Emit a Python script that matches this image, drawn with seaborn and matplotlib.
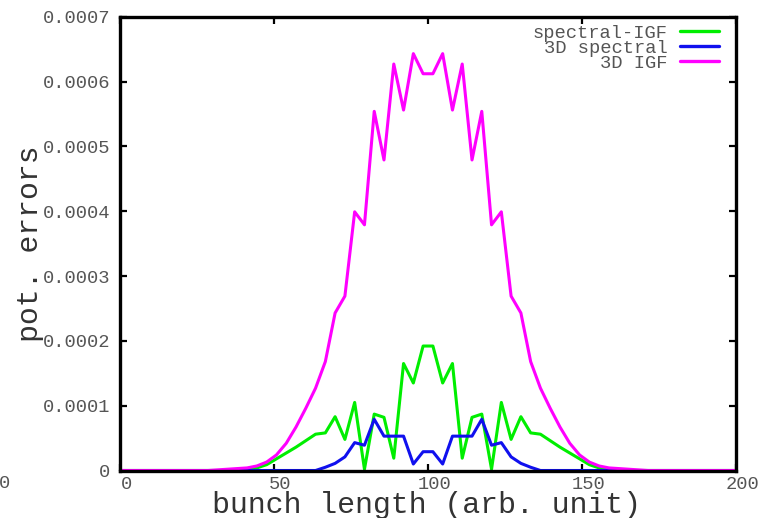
import matplotlib
matplotlib.use("Agg")
import matplotlib.pyplot as plt
import matplotlib.transforms as mtransforms
import seaborn as sns

# ---- data -------------------------------------------------------------
x_pos = [0.00, 3.17, 6.35, 9.52, 12.70, 15.87, 19.05, 22.22, 25.40, 28.57,
         31.75, 34.92, 38.10, 41.27, 44.44, 47.62, 50.79, 53.97, 57.14, 60.32,
         63.49, 66.67, 69.84, 73.02, 76.19, 79.37, 82.54, 85.71, 88.89, 92.06,
         95.24, 98.41, 101.59, 104.76, 107.94, 111.11, 114.29, 117.46, 120.63, 123.81,
         126.98, 130.16, 133.33, 136.51, 139.68, 142.86, 146.03, 149.21, 152.38, 155.56,
         158.73, 161.90, 165.08, 168.25, 171.43, 174.60, 177.78, 180.95, 184.13, 187.30,
         190.48, 193.65, 196.83, 200.00]

spectral_igf = [0, 0, 0, 0, 0, 0, 0, 0, 0, 0,
                0, 0, 0, 0.000002, 0.000004, 0.000009, 0.000018, 0.000027, 0.000036, 0.000046,
                0.000056, 0.000058, 0.000083, 0.000048, 0.000105, 0.000002, 0.000087, 0.000082, 0.000019, 0.000165,
                0.000135, 0.000192, 0.000192, 0.000135, 0.000165, 0.000019, 0.000082, 0.000087, 0.000002, 0.000105,
                0.000048, 0.000083, 0.000058, 0.000056, 0.000046, 0.000036, 0.000027, 0.000018, 0.000009, 0.000004,
                0.000002, 0, 0, 0, 0, 0, 0, 0, 0, 0,
                0, 0, 0, 0]

spectral_3d = [0, 0, 0, 0, 0, 0, 0, 0, 0, 0,
               0, 0, 0, 0, 0, 0, 0, 0, 0, 0,
               0, 0.000005, 0.000011, 0.000021, 0.000043, 0.000039, 0.000079, 0.000053, 0.000053, 0.000053,
               0.000010, 0.000029, 0.000029, 0.000010, 0.000053, 0.000053, 0.000053, 0.000079, 0.000039, 0.000043,
               0.000021, 0.000011, 0.000005, 0, 0, 0, 0, 0, 0, 0,
               0, 0, 0, 0, 0, 0, 0, 0, 0, 0,
               0, 0, 0, 0]

igf_3d = [0, 0, 0, 0, 0, 0, 0, 0, 0, 0,
          0.000001, 0.000002, 0.000003, 0.000004, 0.000007, 0.000013, 0.000024, 0.000042, 0.000067, 0.000096,
          0.000127, 0.000168, 0.000243, 0.000269, 0.000399, 0.000379, 0.000554, 0.000479, 0.000627, 0.000556,
          0.000643, 0.000612, 0.000612, 0.000643, 0.000556, 0.000627, 0.000479, 0.000554, 0.000379, 0.000399,
          0.000269, 0.000243, 0.000168, 0.000127, 0.000096, 0.000067, 0.000042, 0.000024, 0.000013, 0.000007,
          0.000004, 0.000003, 0.000002, 0.000001, 0, 0, 0, 0, 0, 0,
          0, 0, 0, 0]

series_labels = ["spectral-IGF", "3D spectral", "3D IGF"]
series_colors = ["#00ee00", "#1010ee", "#ff00ff"]

x_ticks = [0, 50, 100, 150, 200]
x_tick_labels = ["0", "50", "100", "150", "200"]
y_ticks = [0, 0.0001, 0.0002, 0.0003, 0.0004, 0.0005, 0.0006, 0.0007]
y_tick_labels = ["0", "0.0001", "0.0002", "0.0003", "0.0004", "0.0005", "0.0006", "0.0007"]

x_label = "bunch length (arb. unit)"
y_label = "pot. errors"

# ---- style ------------------------------------------------------------
sns.set_style("white")
plt.rcParams["font.family"] = ["Liberation Mono", "DejaVu Sans Mono"]

fig = plt.figure(figsize=(7.7, 5.18), dpi=100)
ax = fig.add_axes([120 / 770, 1 - 470.5 / 518, 616 / 770, 453.8 / 518])

for vals, lab, col in zip([spectral_igf, spectral_3d, igf_3d], series_labels, series_colors):
    sns.lineplot(x=x_pos, y=vals, ax=ax, color=col, label=lab, lw=2.2,
                 estimator=None, sort=False)

ax.set_xlim(0, 200)
ax.set_ylim(0, 0.0007)
ax.set_xticks(x_ticks)
ax.set_xticklabels(x_tick_labels)
ax.set_yticks(y_ticks)
ax.set_yticklabels(y_tick_labels)

ax.tick_params(axis="both", which="major", direction="in", length=5, width=1.6,
               color="black", labelcolor="#555555", labelsize=13.5,
               top=True, right=True, bottom=True, left=True)
ax.tick_params(axis="x", pad=4)
ax.tick_params(axis="y", pad=7)

# gnuplot-like shift of x tick labels
offset = mtransforms.ScaledTranslation(0.065, 0, fig.dpi_scale_trans)
for lbl in ax.get_xticklabels():
    lbl.set_transform(lbl.get_transform() + offset)

for sp in ax.spines.values():
    sp.set_visible(True)
    sp.set_color("black")
    sp.set_linewidth(2.4)

ax.set_xlabel(x_label, fontsize=21.5, color="#333333")
ax.set_ylabel(y_label, fontsize=21.5, color="#333333")
ax.xaxis.label.set_va("center")
ax.yaxis.label.set_va("center")
ax.xaxis.set_label_coords(0.497, -0.0755)
ax.yaxis.set_label_coords(-0.146, 0.5)

leg = ax.legend(loc="upper right", bbox_to_anchor=(0.9724, 0.983), frameon=False,
                markerfirst=False, fontsize=13.5, labelspacing=-0.11,
                handlelength=2.1, handletextpad=0.65, borderaxespad=0, borderpad=0)
for t in leg.get_texts():
    t.set_color("#555555")
for h in leg.get_lines():
    h.set_linewidth(2.4)

# stray label at the far left of the original
fig.text(5 / 770, 1 - 484 / 518, "0", ha="center", va="center",
         fontsize=13.5, color="#555555")

fig.savefig("out.png", dpi=100)
